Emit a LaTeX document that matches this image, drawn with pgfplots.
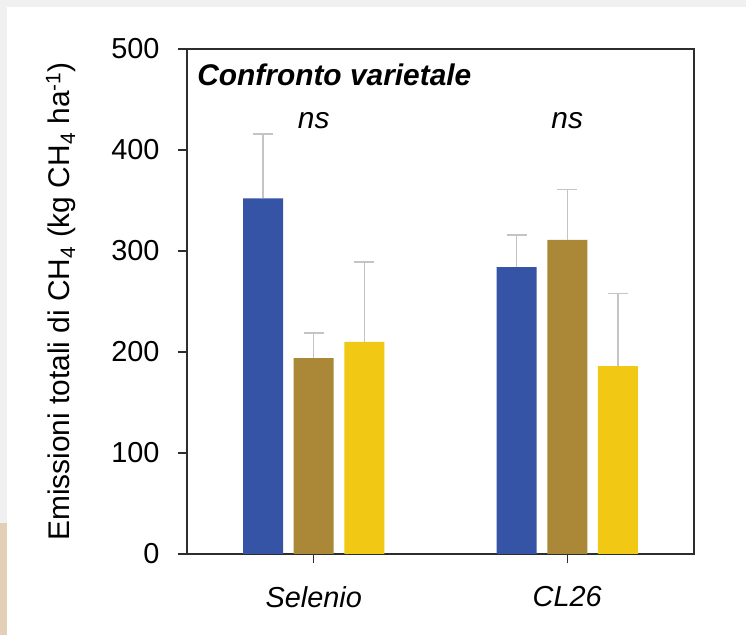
\documentclass[border=0pt]{standalone}
\usepackage{pgfplots}
\pgfplotsset{compat=1.18}
\usepackage{pgfplotstable}
\usepackage{fontspec}
\setmainfont{Liberation Sans}

\definecolor{barblue}{RGB}{53,84,165}
\definecolor{barbrown}{RGB}{170,136,56}
\definecolor{baryellow}{RGB}{241,200,19}
\definecolor{errgray}{RGB}{196,196,196}
\definecolor{axisgray}{RGB}{45,45,45}
\definecolor{pagegray}{RGB}{240,240,240}
\definecolor{pagebeige}{RGB}{226,207,181}

% group: 0 = Selenio, 1 = CL26; v = mean emission; e = upper error
\pgfplotstableread{
g v e
0 352 64
1 284 32
}\seriesA
\pgfplotstableread{
g v e
0 194 25
1 311 50
}\seriesB
\pgfplotstableread{
g v e
0 210 79
1 186 72
}\seriesC

\newcommand{\bigfont}{\fontsize{29}{34}\selectfont}

\begin{document}
\begin{tikzpicture}
% page background
\fill[white] (-187bp,-81bp) rectangle (559bp,554bp);
\fill[pagegray] (-187bp,547bp) rectangle (559bp,554bp);
\fill[pagegray] (-187bp,31bp) rectangle (-180bp,547bp);
\fill[pagebeige] (-187bp,-81bp) rectangle (-180bp,31bp);
\path[use as bounding box] (-187bp,-81bp) rectangle (559bp,554bp);

\begin{axis}[
  at={(0,0)}, anchor=south west,
  scale only axis, width=507bp, height=505bp,
  xmin=-0.5, xmax=1.5, ymin=0, ymax=500,
  xtick={0,1}, xticklabels={Selenio,CL26},
  ytick={0,100,...,500},
  tick align=outside, xtick pos=bottom, ytick pos=left,
  major tick length=9bp,
  axis line style={line width=1.5bp, axisgray},
  every tick/.style={line width=1.5bp, axisgray},
  /pgf/number format/assume math mode=true,
  tick label style={font=\bigfont},
  yticklabel style={xshift=-15bp},
  xticklabel style={font=\bigfont\itshape, yshift=-20bp},
  every axis y label/.style={at={(axis description cs:-0.232,0.5)}, anchor=base, rotate=90,
    font=\fontsize{30}{35}\selectfont},
  ylabel={Emissioni totali di CH\textsubscript{4} (kg CH\textsubscript{4} ha\textsuperscript{-1})},
  bar width=40bp,
  error bars/y dir=plus, error bars/y explicit,
  error bars/error bar style={line width=1.5bp, errgray},
  error bars/error mark options={rotate=90, mark size=10bp, line width=1.5bp, errgray},
]
\addplot[ybar, bar shift=0pt, fill=barblue, draw=none]
  table[x expr=\thisrow{g}-0.2, y=v, y error=e] {\seriesA};
\addplot[ybar, bar shift=0pt, fill=barbrown, draw=none]
  table[x expr=\thisrow{g}, y=v, y error=e] {\seriesB};
\addplot[ybar, bar shift=0pt, fill=baryellow, draw=none]
  table[x expr=\thisrow{g}+0.2, y=v, y error=e] {\seriesC};

\node[anchor=base west, font=\fontsize{30}{35}\selectfont\bfseries\itshape, inner sep=0pt]
  at (axis description cs:0.02,0.9287) {Confronto varietale};
\node[anchor=base, font=\fontsize{30}{35}\selectfont\itshape] at (axis cs:0,420.8) {ns};
\node[anchor=base, font=\fontsize{30}{35}\selectfont\itshape] at (axis cs:1,420.8) {ns};
\end{axis}
\end{tikzpicture}
\end{document}
